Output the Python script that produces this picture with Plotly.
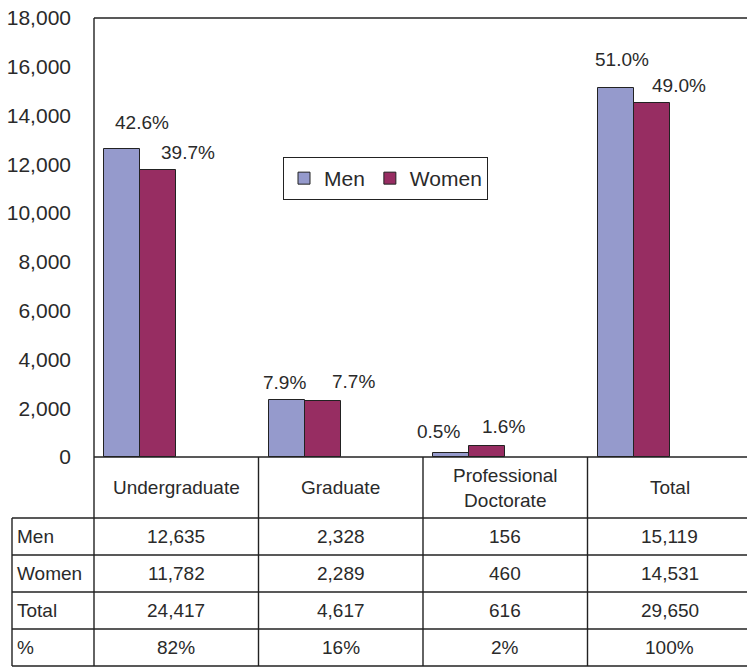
import plotly.graph_objects as go

# ---------------- data ----------------
categories = ["Undergraduate", "Graduate", "Professional Doctorate", "Total"]
header_labels = ["Undergraduate", "Graduate", "Professional<br>Doctorate", "Total"]
men = [12635, 2328, 156, 15119]
women = [11782, 2289, 460, 14531]
totals = [24417, 4617, 616, 29650]
share_of_total = ["82%", "16%", "2%", "100%"]
men_pct = ["42.6%", "7.9%", "0.5%", "51.0%"]
women_pct = ["39.7%", "7.7%", "1.6%", "49.0%"]
y_ticks = [0, 2000, 4000, 6000, 8000, 10000, 12000, 14000, 16000, 18000]
row_names = ["Men", "Women", "Total", "%"]

# ---------------- layout geometry ----------------
W, H = 747, 667
L, T, B = 94, 18, 210
PLOT_H = H - T - B
CAT_PX = 164.5
X_MAX = -0.5 + (W - L) / CAT_PX
BW = 36 / CAT_PX
MEN_OFF = -0.5 + 10 / CAT_PX
WOMEN_OFF = MEN_OFF + BW

FONT = "Liberation Sans, Arial, sans-serif"
TXT = "#2a2a2a"
LINE = "#222222"
MEN_COLOR = "#959ACC"
WOMEN_COLOR = "#972D62"

# label nudges (pixels) relative to each bar's top centre
men_shift = [(20, 26.5), (-2.5, 18), (-13, 21.5), (6, 28.5)]
women_shift = [(30, 17), (31, 20), (16.5, 19), (27, 17)]


def py(pix):
    return (T + PLOT_H - pix) / PLOT_H


def px(pix):
    return (pix - L) / (W - L)


def cat_paper(b):
    return (b + 0.5) / (X_MAX + 0.5)


fig = go.Figure()
fig.add_trace(go.Bar(
    x=categories, y=men, name="Men", width=BW, offset=MEN_OFF,
    marker=dict(color=MEN_COLOR, line=dict(color=LINE, width=1)),
))
fig.add_trace(go.Bar(
    x=categories, y=women, name="Women", width=BW, offset=WOMEN_OFF,
    marker=dict(color=WOMEN_COLOR, line=dict(color=LINE, width=1)),
))

annotations = []
men_c = (MEN_OFF + BW / 2) * CAT_PX
women_c = (WOMEN_OFF + BW / 2) * CAT_PX
for i, c in enumerate(categories):
    annotations.append(dict(x=c, y=men[i], xref="x", yref="y", text=men_pct[i],
                            showarrow=False, xanchor="center", yanchor="middle",
                            xshift=men_c + men_shift[i][0], yshift=men_shift[i][1],
                            font=dict(size=19, color=TXT, family=FONT)))
    annotations.append(dict(x=c, y=women[i], xref="x", yref="y", text=women_pct[i],
                            showarrow=False, xanchor="center", yanchor="middle",
                            xshift=women_c + women_shift[i][0], yshift=women_shift[i][1],
                            font=dict(size=19, color=TXT, family=FONT)))

# table header
for i, lab in enumerate(header_labels):
    annotations.append(dict(x=categories[i], y=py(487.5), xref="x", yref="paper",
                            text=lab, showarrow=False, xanchor="center", yanchor="middle",
                            font=dict(size=19, color=TXT, family=FONT)))

# table rows
row_centers = [536.5, 573.5, 610.5, 647.5]
rows = [[f"{v:,}" for v in men], [f"{v:,}" for v in women],
        [f"{v:,}" for v in totals], share_of_total]
for r, name in enumerate(row_names):
    annotations.append(dict(x=px(15), y=py(row_centers[r]), xref="paper", yref="paper",
                            text=name, showarrow=False, xanchor="left", yanchor="middle",
                            font=dict(size=19, color=TXT, family=FONT)))
    for i, val in enumerate(rows[r]):
        annotations.append(dict(x=categories[i], y=py(row_centers[r]), xref="x", yref="paper",
                                text=val, showarrow=False, xanchor="center", yanchor="middle",
                                font=dict(size=19, color=TXT, family=FONT)))

shapes = []
ln = dict(color=LINE, width=1.4)
# plot frame
shapes.append(dict(type="line", xref="paper", yref="paper", x0=0, x1=1.02, y0=1, y1=1, line=ln))
shapes.append(dict(type="line", xref="paper", yref="paper", x0=0, x1=1.02, y0=0, y1=0, line=ln))
shapes.append(dict(type="line", xref="paper", yref="paper", x0=0, x1=0, y0=1, y1=py(666), line=ln))
# table horizontals
for yy in [518, 555, 592, 629, 666]:
    shapes.append(dict(type="line", xref="paper", yref="paper", x0=px(12), x1=1.02,
                       y0=py(yy), y1=py(yy), line=ln))
# table verticals
for b in [0.5, 1.5, 2.5]:
    shapes.append(dict(type="line", xref="paper", yref="paper", x0=cat_paper(b), x1=cat_paper(b),
                       y0=0, y1=py(666), line=ln))
shapes.append(dict(type="line", xref="paper", yref="paper", x0=px(12), x1=px(12),
                   y0=py(518), y1=py(666), line=ln))

fig.update_layout(
    width=W, height=H,
    margin=dict(l=L, r=0, t=T, b=B, pad=0),
    paper_bgcolor="white", plot_bgcolor="white",
    font=dict(family=FONT, color=TXT),
    bargap=0, bargroupgap=0,
    showlegend=True,
    legend=dict(orientation="h", x=px(283), xanchor="left", y=py(157), yanchor="top",
                bordercolor=LINE, borderwidth=1, bgcolor="white",
                font=dict(size=21, color=TXT, family=FONT), itemwidth=30,
                traceorder="normal"),
    xaxis=dict(range=[-0.5, X_MAX], showticklabels=False, showgrid=False, zeroline=False,
               showline=False, ticks=""),
    yaxis=dict(range=[0, 18000], tickvals=y_ticks, tickformat=",", showgrid=False,
               zeroline=False, showline=False, ticks="", ticklabelstandoff=22,
               tickfont=dict(size=21, color=TXT, family=FONT)),
    annotations=annotations,
    shapes=shapes,
)

fig.write_html(
    "out.html",
    config={"displayModeBar": False},
    post_script="document.body.style.margin='0';document.body.style.overflow='hidden';",
)
